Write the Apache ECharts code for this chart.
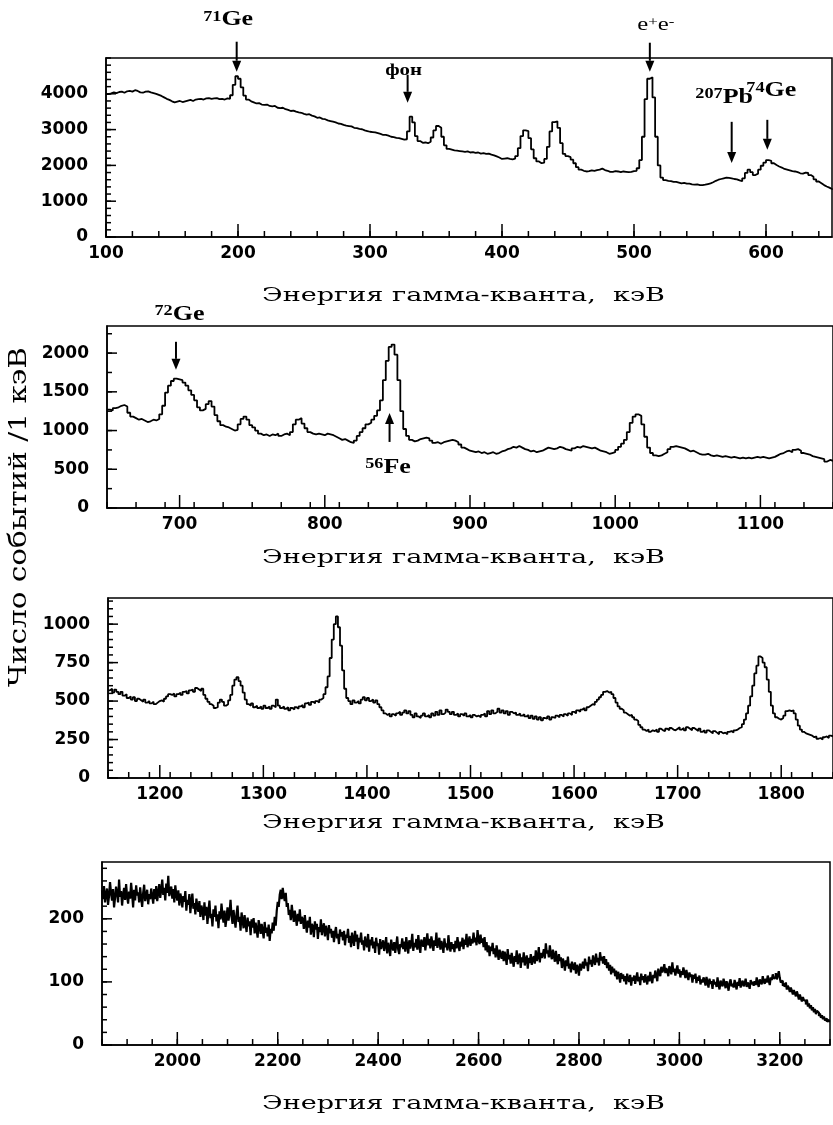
<!DOCTYPE html>
<html lang="ru">
<head>
<meta charset="utf-8">
<title>Спектр гамма-квантов</title>
<script src="https://cdn.jsdelivr.net/npm/echarts@6/dist/echarts.min.js"></script>
<style>
html, body { margin: 0; padding: 0; background: #fff; }
#chart { width: 833px; height: 1125px; }
</style>
</head>
<body>
<div id="chart"></div>
<script>
// ---- Spectrum data: counts per bin, bins start at *Start and are *Step keV wide ----
const p1Start = 100, p1Step = 2;
const p1Counts = [
  3990,4010,4040,4020,4050,4060,4030,4070,4080,4060,
  4100,4080,4040,4030,4060,4070,4040,4020,4000,3970,
  3940,3900,3860,3830,3790,3760,3780,3800,3770,3790,
  3810,3830,3800,3840,3850,3860,3840,3870,3880,3860,
  3870,3880,3850,3860,3840,3870,3860,3960,4250,4490,
  4420,4180,3950,3840,3790,3760,3730,3740,3700,3690,
  3700,3660,3650,3660,3610,3600,3610,3570,3550,3520,
  3530,3500,3480,3470,3440,3420,3430,3390,3370,3330,
  3340,3300,3290,3260,3240,3220,3200,3170,3160,3130,
  3110,3100,3090,3050,3040,3020,3010,2980,2960,2940,
  2930,2920,2900,2880,2850,2850,2830,2800,2790,2770,
  2760,2740,2720,2730,2950,3360,3200,2820,2680,2630,
  2640,2620,2660,2780,2980,3100,3050,2800,2560,2460,
  2440,2420,2410,2400,2390,2380,2390,2360,2370,2350,
  2360,2330,2340,2320,2330,2300,2280,2250,2220,2180,
  2190,2200,2180,2170,2190,2260,2480,2820,2980,2960,
  2760,2450,2200,2110,2060,2080,2180,2520,2950,3210,
  3230,3050,2620,2320,2260,2230,2160,2060,1950,1880,
  1850,1830,1840,1860,1850,1870,1880,1910,1870,1850,
  1820,1820,1840,1830,1810,1830,1820,1810,1820,1840,
  1850,1920,2150,2800,3850,4420,4460,3900,2800,2000,
  1660,1590,1570,1560,1540,1540,1520,1500,1510,1490,
  1490,1470,1460,1470,1450,1450,1460,1480,1500,1530,
  1570,1600,1620,1640,1660,1650,1640,1620,1610,1580,
  1560,1640,1790,1880,1810,1730,1770,1880,1990,2080,
  2150,2130,2060,2010,1970,1940,1900,1880,1860,1840,
  1830,1810,1780,1770,1800,1790,1730,1680,1610,1550,
  1500,1450,1410,1380,1340,1320
];

const p2Start = 650, p2Step = 2;
const p2Counts = [
  1270,1260,1290,1300,1320,1330,1310,1230,1180,1160,
  1140,1150,1130,1110,1120,1140,1130,1150,1210,1320,
  1490,1580,1640,1670,1660,1650,1620,1580,1520,1460,
  1390,1300,1260,1280,1340,1380,1310,1200,1120,1070,
  1050,1040,1020,1000,1010,1080,1150,1180,1140,1070,
  1040,1000,960,940,950,930,950,940,960,930,
  950,960,940,980,1080,1140,1160,1090,1030,980,
  960,950,960,950,940,960,950,940,920,900,
  880,890,870,850,840,870,930,980,1030,1080,
  1100,1140,1190,1260,1390,1650,1900,2080,2110,1980,
  1650,1250,1020,930,880,860,870,890,900,910,
  900,870,840,850,830,850,860,870,880,870,
  850,820,780,760,740,730,720,730,710,720,
  700,710,720,700,710,730,740,760,770,790,
  780,800,780,760,750,730,740,720,730,740,
  760,780,770,760,770,790,780,760,750,740,
  770,790,780,800,790,780,770,780,760,740,
  730,720,700,710,720,750,790,830,880,980,
  1100,1180,1210,1190,1080,920,780,710,680,670,
  680,700,720,760,790,800,790,780,770,750,
  730,740,720,700,690,690,700,680,670,680,
  670,660,670,660,650,660,650,640,650,640,
  650,640,650,660,650,660,650,640,650,660,
  680,700,710,730,740,720,750,760,740,710,
  700,690,670,660,650,640,630,600,620,610,
  600
];

const p3Start = 1150, p3Step = 2;
const p3Counts = [
  570,580,555,575,560,545,560,535,545,520,
  530,510,525,500,515,505,495,510,490,500,
  485,495,480,490,500,505,495,515,530,545,
  540,550,530,545,555,540,560,565,550,570,
  575,560,585,575,565,580,540,515,495,480,
  470,455,460,490,510,495,470,480,505,540,
  600,640,655,630,600,555,510,480,470,485,
  460,470,455,465,450,470,455,465,450,470,
  460,510,470,455,465,450,460,440,455,445,
  460,450,465,475,460,485,490,475,495,485,
  500,490,510,520,545,590,660,780,900,1000,
  1050,980,860,700,580,520,500,480,505,490,
  500,485,510,525,505,520,500,510,490,505,
  480,460,440,420,410,420,400,415,405,420,
  430,410,425,440,420,435,410,395,420,400,
  390,405,420,400,410,395,420,405,430,410,
  440,415,425,445,430,415,430,410,420,400,
  415,405,420,400,410,395,410,400,405,395,
  410,420,400,435,415,440,420,430,450,425,
  440,420,435,410,430,420,425,410,420,405,
  415,400,410,390,405,385,400,380,395,375,
  390,385,400,380,395,390,405,395,410,400,
  415,405,420,410,430,420,440,430,445,455,
  440,460,470,480,475,495,510,525,540,560,
  565,555,560,545,520,490,465,450,440,425,
  415,405,410,395,380,370,345,330,315,305,
  315,300,310,305,315,300,320,310,305,320,
  310,325,315,310,320,330,315,325,310,330,
  320,310,325,315,305,320,300,310,295,310,
  300,290,305,295,285,300,290,295,285,300,
  305,295,310,315,325,330,350,380,420,470,
  530,600,680,730,790,780,750,720,640,560,
  470,420,395,385,380,390,405,435,440,435,
  440,420,380,340,315,300,290,285,280,275,
  265,270,255,260,250,265,270,260,275,270,
  280
];

const p4Start = 1850, p4Step = 2;
const p4Counts = [
  // 1850 – 1948
  245,231,252,226,239,248,222,236,258,241,229,247,218,233,251,240,226,262,235,244,
  221,238,249,230,255,236,224,243,232,257,239,218,246,229,253,237,242,226,250,233,
  219,241,254,228,237,246,223,239,231,248,
  // 1950 – 2048
  236,224,247,231,252,228,241,255,233,246,262,238,249,229,256,241,268,236,244,251,
  232,247,226,253,238,229,245,221,240,233,218,236,227,244,213,230,222,239,209,228,
  240,216,225,207,232,219,211,228,203,221,
  // 2050 – 2148
  214,198,226,205,219,192,211,229,201,208,188,215,203,221,196,207,185,212,199,224,
  206,194,213,187,201,218,197,209,230,204,192,214,199,186,208,221,195,203,181,210,
  197,185,206,191,179,202,188,196,174,199,
  // 2150 – 2248
  186,201,177,194,183,170,198,188,176,192,181,169,195,178,186,172,191,165,184,177,
  194,181,203,189,212,227,219,238,246,231,249,236,228,241,219,225,206,214,198,222,
  207,195,213,201,189,208,196,215,192,203,
  // 2250 – 2348
  199,184,206,190,178,197,186,203,175,192,188,171,196,183,192,168,187,179,199,174,
  185,193,172,189,181,166,190,177,184,170,181,163,178,187,169,176,160,183,172,179,
  166,181,158,175,170,184,162,173,155,178,
  // 2350 – 2448
  168,157,181,164,175,152,170,163,178,159,166,150,172,161,155,176,148,167,158,171,
  153,164,146,170,157,161,143,168,152,159,166,149,158,171,145,162,154,141,167,156,
  150,163,146,158,172,151,144,160,155,169,
  // 2450 – 2548
  152,164,148,171,157,145,166,153,160,176,149,162,155,168,151,174,158,146,167,161,
  156,171,150,164,177,158,168,153,172,162,149,166,157,178,154,163,170,151,165,158,
  146,169,155,161,150,174,157,148,163,152,
  // 2550 – 2648
  160,147,165,153,171,158,149,164,156,170,152,167,159,176,155,163,172,157,168,161,
  178,163,170,158,182,166,160,175,162,169,155,171,150,163,147,158,141,156,149,162,
  144,153,139,158,146,135,151,142,137,149,
  // 2650 – 2748
  133,148,139,127,152,136,143,129,146,134,124,141,132,150,128,137,145,122,139,131,
  147,126,135,142,121,138,130,144,127,136,141,129,150,133,139,155,131,146,138,143,
  152,137,161,145,150,139,158,143,136,151,
  // 2750 – 2848
  141,132,149,136,128,144,133,139,122,137,130,118,134,125,140,121,129,115,132,124,
  119,131,113,127,122,110,129,118,125,132,121,137,126,131,117,140,128,135,124,142,
  133,127,145,131,138,126,147,134,140,129,
  // 2850 – 2948
  141,127,136,122,131,118,127,112,124,115,121,109,118,104,116,110,99,114,105,112,
  101,109,96,113,104,100,111,94,107,102,110,97,106,115,101,108,95,113,103,109,
  99,112,104,96,110,101,116,105,98,111,
  // 2950 – 3048
  106,118,110,101,121,113,109,124,115,119,128,114,122,117,109,125,119,112,131,116,
  121,110,118,126,113,120,107,117,111,123,114,106,119,110,103,115,108,112,99,111,
  105,113,98,108,102,110,96,104,99,107,
  // 3050 – 3148
  103,94,108,99,91,105,97,101,89,104,96,100,92,107,95,88,102,97,93,105,
  98,90,101,95,86,99,104,93,97,91,103,95,88,100,94,106,91,98,102,93,
  97,105,92,99,95,89,103,96,100,94,
  // 3150 – 3248
  101,95,107,98,92,104,100,96,109,101,97,105,99,110,102,95,107,103,112,105,
  108,114,104,110,117,106,99,102,94,97,92,99,88,94,90,84,91,86,80,87,
  82,77,85,79,72,80,74,69,76,71,
  // 3250 – 3298
  70,64,72,61,66,58,63,55,60,52,57,49,54,51,46,50,43,47,41,45,39,42,37,40,36
];

// ---- Axis ranges and tick labels ----
const xRanges = [[100, 650], [650, 1150], [1150, 1850], [1850, 3300]];
const yMaxes = [5000, 2350, 1170, 290];
const p1XLabels = [100, 200, 300, 400, 500, 600];
const p2XLabels = [700, 800, 900, 1000, 1100];
const p3XLabels = [1200, 1300, 1400, 1500, 1600, 1700, 1800];
const p4XLabels = [2000, 2200, 2400, 2600, 2800, 3000, 3200];
const p1YLabels = [0, 1000, 2000, 3000, 4000];
const p2YLabels = [0, 500, 1000, 1500, 2000];
const p3YLabels = [0, 250, 500, 750, 1000];
const p4YLabels = [0, 100, 200];
const xMinorSteps = [20, 20, 20, 50];
const yMinorSteps = [200, 250, 50, 20];

// ---- Peak annotations (energy in keV, arrow tip / tail in counts) ----
const annotations = [
  { panel: 0, energy: 199,   tip: 4615, tail: 5455, text: '{s|71}{b|Ge}' },
  { panel: 0, energy: 328.5, tip: 3748, tail: 4531, text: '{f|фон}' },
  { panel: 0, energy: 512,   tip: 4615, tail: 5427, text: '{r|e}{rs|+}{r|e}{rs|-}' },
  { panel: 0, energy: 574,   tip: 2070, tail: 3217, text: '{s|207}{b|Pb}' },
  { panel: 0, energy: 601,   tip: 2434, tail: 3273, text: '{s|74}{b|Ge}' },
  { panel: 1, energy: 697.5, tip: 1784, tail: 2146, text: '{s|72}{b|Ge}' },
  { panel: 1, energy: 844.6, tip: 1228, tail: 853,  text: '{s|56}{b|Fe}' }
];

// ---- Layout ----
const grids = [
  { left: 106, top: 58,  width: 726, height: 179 },
  { left: 107, top: 326, width: 727, height: 182 },
  { left: 108, top: 598, width: 727, height: 180 },
  { left: 102, top: 862, width: 728, height: 183 }
];
const lineWidths = [1.8, 1.8, 1.8, 2.2];
const titleCentersY = [296, 558, 823, 1104];
const titleCenterX = 463.5, titleWidth = 403;
const yTitleCenter = [20, 517], yTitleLength = 340;
// label offsets from the arrow tail, px
const labelOffsets = [[-8.5, -21.5], [-4, -4], [6, -17.5], [-7.5, -24.5], [4, -28.5], [3.5, -27], [-1.5, 25.5]];
const tickLen = { xMajor: 13, xMinor: 6, yMajor: 10, yMinor: 5 };

const panels = [
  { start: p1Start, step: p1Step, counts: p1Counts, xLabels: p1XLabels, yLabels: p1YLabels },
  { start: p2Start, step: p2Step, counts: p2Counts, xLabels: p2XLabels, yLabels: p2YLabels },
  { start: p3Start, step: p3Step, counts: p3Counts, xLabels: p3XLabels, yLabels: p3YLabels },
  { start: p4Start, step: p4Step, counts: p4Counts, xLabels: p4XLabels, yLabels: p4YLabels }
];

function steps(a, b, s) {
  const out = [];
  for (let v = a; v <= b + 1e-9; v += s) out.push(Math.round(v * 1000) / 1000);
  return out;
}

const black = '#000';
const tickFont = { color: black, fontFamily: 'DejaVu Sans', fontWeight: 'bold', fontSize: 17 };

// Inward tick marks drawn through the axis scales (one series per tick family)
function tickSeries(i, values, horizontal, len) {
  const [xmin] = xRanges[i];
  return {
    type: 'custom', xAxisIndex: i, yAxisIndex: i, silent: true, clip: false, z: 5,
    data: values.map(v => horizontal ? [v, 0] : [xmin, v]),
    renderItem: (params, api) => {
      const p = api.coord([api.value(0), api.value(1)]);
      const shape = horizontal
        ? { x1: p[0], y1: p[1], x2: p[0], y2: p[1] - len }
        : { x1: p[0], y1: p[1], x2: p[0] + len, y2: p[1] };
      return { type: 'line', shape, style: { stroke: black, lineWidth: 1.5 } };
    }
  };
}

const option = {
  animation: false,
  backgroundColor: '#fff',
  grid: grids.map(g => Object.assign({ show: true, borderColor: black, borderWidth: 1.5, backgroundColor: 'transparent' }, g)),
  xAxis: [],
  yAxis: [],
  series: []
};

panels.forEach((p, i) => {
  const [xmin, xmax] = xRanges[i];
  option.xAxis.push({
    type: 'value', gridIndex: i, min: xmin, max: xmax, position: 'bottom',
    axisLine: { show: true, onZero: false, lineStyle: { color: black, width: 1.5 } },
    axisTick: { show: false },
    axisLabel: Object.assign({ show: true, customValues: p.xLabels, margin: 8, formatter: v => String(v) }, tickFont),
    splitLine: { show: false }
  });
  option.yAxis.push({
    type: 'value', gridIndex: i, min: 0, max: yMaxes[i], position: 'left',
    axisLine: { show: true, onZero: false, lineStyle: { color: black, width: 1.5 } },
    axisTick: { show: false },
    axisLabel: Object.assign({ show: true, customValues: p.yLabels, margin: 18, formatter: v => String(v) }, tickFont),
    splitLine: { show: false }
  });
  option.series.push({
    type: 'line',
    xAxisIndex: i, yAxisIndex: i,
    data: p.counts.map((c, k) => [p.start + k * p.step, c]),
    step: 'end',
    showSymbol: false,
    symbol: 'none',
    silent: true,
    lineStyle: { color: black, width: lineWidths[i] }
  });
  option.series.push(tickSeries(i, p.xLabels, true, tickLen.xMajor));
  option.series.push(tickSeries(i, steps(xmin, xmax, xMinorSteps[i]), true, tickLen.xMinor));
  option.series.push(tickSeries(i, p.yLabels, false, tickLen.yMajor));
  option.series.push(tickSeries(i, steps(0, yMaxes[i], yMinorSteps[i]), false, tickLen.yMinor));
});

const chart = echarts.init(document.getElementById('chart'), null, { renderer: 'canvas' });
chart.setOption(option);

// ---- Text and arrows ----
const measureCtx = document.createElement('canvas').getContext('2d');
function textWidth(str, font) { measureCtx.font = font; return measureCtx.measureText(str).width; }

const serif = 'DejaVu Serif';
const titleText = 'Энергия гамма-кванта,  кэВ';
const yTitleText = 'Число событий /1 кэВ';
const titleSize = 18, yTitleSize = 24;
const titleScale = titleWidth / textWidth(titleText, titleSize + 'px "' + serif + '"');
const yTitleScale = yTitleLength / textWidth(yTitleText, yTitleSize + 'px "' + serif + '"');

const noteFace = 'Liberation Serif';
const noteRich = {
  s:  { fontFamily: noteFace, fontWeight: 'bold', fontSize: 14, fill: black, color: black, verticalAlign: 'top' },
  b:  { fontFamily: noteFace, fontWeight: 'bold', fontSize: 20, fill: black, color: black, verticalAlign: 'bottom' },
  f:  { fontFamily: noteFace, fontWeight: 'bold', fontSize: 16, fill: black, color: black },
  r:  { fontFamily: noteFace, fontSize: 19, fill: black, color: black, verticalAlign: 'bottom' },
  rs: { fontFamily: noteFace, fontSize: 13, fill: black, color: black, verticalAlign: 'top' }
};

const graphics = [];
titleCentersY.forEach(cy => {
  graphics.push({
    type: 'text', x: titleCenterX, y: cy, scaleX: titleScale, silent: true,
    style: { text: titleText, fontFamily: serif, fontSize: titleSize, fill: black,
             textAlign: 'center', textVerticalAlign: 'middle', align: 'center', verticalAlign: 'middle' }
  });
});
graphics.push({
  type: 'text', x: yTitleCenter[0], y: yTitleCenter[1], rotation: Math.PI / 2, scaleX: yTitleScale, silent: true,
  style: { text: yTitleText, fontFamily: serif, fontSize: yTitleSize, fill: black,
           textAlign: 'center', textVerticalAlign: 'middle', align: 'center', verticalAlign: 'middle' }
});

annotations.forEach((a, k) => {
  const px = chart.convertToPixel({ xAxisIndex: a.panel }, a.energy);
  const tipY = chart.convertToPixel({ yAxisIndex: a.panel }, a.tip);
  const tailY = chart.convertToPixel({ yAxisIndex: a.panel }, a.tail);
  const down = tipY > tailY;
  const headLen = 11, headHalf = 4.5;
  const baseY = down ? tipY - headLen : tipY + headLen;
  graphics.push({ type: 'line', silent: true, shape: { x1: px, y1: tailY, x2: px, y2: baseY },
                  style: { stroke: black, lineWidth: 2 } });
  graphics.push({ type: 'polygon', silent: true,
                  shape: { points: [[px - headHalf, baseY], [px + headHalf, baseY], [px, tipY]] },
                  style: { fill: black } });
  const [ox, oy] = labelOffsets[k];
  graphics.push({
    type: 'text', x: px + ox, y: tailY + oy, scaleX: 1.3, silent: true,
    style: { text: a.text, rich: noteRich, fill: black,
             textAlign: 'center', textVerticalAlign: 'middle', align: 'center', verticalAlign: 'middle' }
  });
});

chart.setOption({ graphic: graphics });
</script>
</body>
</html>
